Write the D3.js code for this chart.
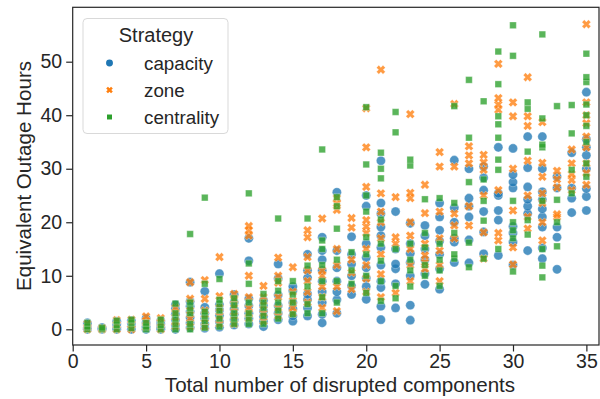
<!DOCTYPE html>
<html><head><meta charset="utf-8">
<script src="https://cdn.jsdelivr.net/npm/d3@7"></script>
<style>body{margin:0;background:#fff}svg{display:block}text{font-family:"Liberation Sans",Arial,sans-serif;fill:#262626}</style>
</head><body><svg id="c" width="600" height="399"></svg>
<script>
const strategies = ["capacity","zone","centrality"];
const colors = ["#1f77b4","#ff7f0e","#2ca02c"];
const xTicks = [0,5,10,15,20,25,30,35];
const yTicks = [0,10,20,30,40,50];
const xs = d3.range(1,36);
const capacity = [
[0,0.3,0.8,1.2],[0,0.1,0.3],[0,0.4,1.0,1.5],[0,0.5,1.2,1.6],[0,0.5,1.2,2.0],[0,0.4,1.0,1.6],
[0,0.8,1.8,2.8,3.8,4.6],[0.3,1.2,2.2,3.3,4.3,5.2,8.8],[0.2,1.0,2.0,3.0,4.1,7.1],[0.4,1.4,2.6,3.6,4.6,10.4],
[0.8,1.8,2.8,3.8,5.0,6.5],[1.0,2.0,3.0,4.4,5.7,12.8,17.0],[0.5,1.4,2.4,3.4,4.4,5.4],[1.8,3.0,4.4,6.4,9.5,12.2],
[1.5,2.5,3.8,5.0,7.2,8.0],[2.5,4.0,5.5,6.6,9.6,11.0,14.0],[1.2,2.8,5.0,7.0,9.0,11.0,13.0,14.7,17.2],
[3.0,5.5,7.0,9.0,11.5,14.7,25.6],[6.5,8.1,10.0,12.2,14.0,17.3],[5.6,8.0,9.6,11.5,13.4,16.0,23.0,25.0],
[1.8,4.3,7.8,9.0,12.0,15.3,17.5,19.1,21.6,23.6,31.5],[4.0,8.5,11.3,12.2,15.0,22.0],[1.7,4.5,10.0,12.5,14.2,16.0,19.8],
[8.4,10.4,13.0,15.0,17.5,19.4],[7.5,11.3,14.0,16.5,18.5,21.0,23.6],[12.5,16.3,17.0,20.0,22.7,31.6],
[12.4,16.7,21.0,23.0,24.5,30.0],[14.1,18.2,22.0,26.0,28.3,30.4],[13.8,20.4,22.2,25.0,25.4,34.0],
[12.0,16.3,18.0,19.2,26.4,27.5,28.9,33.8],[14.7,21.6,23.0,24.3,26.6,30.2,36.0],
[13.2,15.2,19.1,21.0,22.5,24.2,25.7,30.0,36.0],[11.2,17.2,19.1,26.4,28.5],[21.8,24.5,26.4,33.0],
[22.2,24.8,26.3,30.0,32.5,34.0,35.5,44.3]];
const zone = [
[0,0.4,1.0],[0,0.2],[0,0.8,1.7],[0,0.9,1.8],[0.4,1.5,2.4],[0,1.2,2.1],[0.5,1.5,3.0,4.0],
[0.5,2.0,3.5,5.7,8.8],[0.5,2.0,3.5,5.7,9.2],[1.0,2.5,4.0,6.2,13.5],[1.0,2.5,4.0,5.5,6.6],
[2.0,3.0,4.0,6.0,10.0,17.5,18.5,19.3],[1.5,3.0,4.5,6.0,8.1],[2.5,4.0,6.0,8.7,10.0,13.4],
[3.0,4.0,5.3,7.0,11.6],[5.0,7.0,9.0,11.0,13.5,17.2,18.5],[4.0,6.0,8.0,10.0,11.0,20.7],
[3.4,8.0,12.0,15.0,22.3,23.5,24.5],[7.5,10.6,13.0,19.0,20.8],[7.0,9.5,12.0,15.0,18.0,19.2,20.4,26.6,34.0,41.3],
[6.0,10.3,14.0,17.0,20.0,22.0,25.4,48.5],[6.8,16.0,17.2,24.7],[9.0,12.0,15.0,17.5,20.0,24.5,25.5,40.2],
[11.3,12.5,13.8,16.0,21.7,27.0],[9.0,12.0,14.7,17.0,22.0,30.4,33.1],[17.0,19.4,21.6,30.4,42.1],
[19.4,23.0,31.0,32.5,34.2],[13.2,18.1,25.0,29.8,31.2,32.6],[16.6,18.0,26.0,41.0,42.0,43.2,49.6],
[12.1,15.3,22.2,30.0,39.8,42.4],[18.8,21.0,25.0,31.5,38.0,39.8,47.1],[16.6,20.0,23.6,25.4,28.5,31.1,38.7],
[21.0,21.5,26.5,28.0,29.6],[26.0,27.9,29.0,31.0,33.6],[27.0,29.2,31.0,34.0,36.0,38.5,40.0,42.4,57.0]];
const centrality = [
[0,0.5,1.2],[0,0.3],[0,0.8,1.6],[0.2,1.2,1.8],[0,0.5,1.2],[0,0.8,1.8],[0,1.0,2.0,3.0,4.8],
[0,1.0,3.0,4.0,5.0,17.8],[0.3,1.5,2.5,3.3,8.5,24.6],[0.5,2.0,3.5,4.7,5.5,9.4],[1.0,2.0,3.0,4.5,5.8],
[1.0,2.0,3.0,5.0,8.5,12.3,25.4],[1.0,2.5,4.0,5.0,6.6],[2.0,3.5,5.0,7.2,9.0,20.7],[2.8,5.0,6.5,9.0],
[3.0,4.7,8.0,11.9,20.7],[3.0,6.0,9.0,12.0,15.0,16.6,33.6],[5.0,9.0,13.0,18.8,23.0,24.7],[8.5,11.0,14.4],
[6.8,10.0,14.0,17.2,22.0,25.0,30.8,41.5],[5.3,9.0,12.8,16.0,20.5,28.2,30.0,33.0],[5.8,8.1,15.0,36.8,40.6],
[8.0,11.0,13.0,16.0,30.6,31.7],[10.0,12.0,15.3,18.0,24.3],[8.1,11.0,13.0,16.0,24.5],[13.2,14.0,18.0,23.6,41.7],
[11.6,16.2,27.5,35.8,46.6],[13.2,20.3,24.0,28.0,42.6],[15.0,29.8,31.7,35.8,38.3,39.8,45.8,51.9],
[10.8,17.0,18.5,20.0,24.0,51.1,56.8],[17.7,20.4,33.2,41.2,42.4],[9.7,11.9,15.0,24.0,34.0,34.5,39.4,55.1],
[15.5,20.0,24.2,41.7],[25.4,29.8,36.6,41.9],[28.5,31.0,35.0,38.0,40.0,42.0,46.2,47.1,51.5]];
const seriesVals = [capacity, zone, centrality];

const svg = d3.select("#c");
const L=72.7, R=599, T=7.3, B=345;
const x = d3.scaleLinear().domain([0,35.86]).range([L,R]);
const y = d3.scaleLinear().domain([0,50]).range([329.3,61.7]);

function xPath(s){ // filled X
  const a=s, w=s*0.36, c=Math.SQRT1_2;
  const p=[[w,a],[w,w],[a,w],[a,-w],[w,-w],[w,-a],[-w,-a],[-w,-w],[-a,-w],[-a,w],[-w,w],[-w,a]]
    .map(([px,py])=>[(px-py)*c,(px+py)*c]);
  return "M"+p.map(q=>q.join(",")).join("L")+"Z";
}
function markerPath(k, scale){
  if(k===0) return d3.symbol(d3.symbolCircle, 66*scale*scale)();
  if(k===1) return xPath(4.6*scale);
  return d3.symbol(d3.symbolSquare, 44*scale*scale)();
}

const pts=[];
xs.forEach((xv,i)=>{ seriesVals.forEach((arr,k)=>{ arr[i].forEach(v=>pts.push({x:xv,y:v,k})); }); });

const g = svg.append("g");
g.selectAll("path.pt").data(pts).join("path").attr("class","pt")
  .attr("transform",d=>`translate(${x(d.x)},${y(d.y)})`)
  .attr("d",d=>markerPath(d.k,1))
  .attr("fill",d=>colors[d.k]).attr("fill-opacity",0.78)
  .attr("stroke","#fff").attr("stroke-width",0.5).attr("stroke-opacity",0.6);

svg.append("rect").attr("x",L).attr("y",T).attr("width",R-L).attr("height",B-T)
  .attr("fill","none").attr("stroke","#262626").attr("stroke-width",1.2);

const xa = svg.append("g").attr("transform",`translate(0,${B})`)
  .call(d3.axisBottom(x).tickValues(xTicks).tickSize(6.5).tickPadding(3));
const ya = svg.append("g").attr("transform",`translate(${L},0)`)
  .call(d3.axisLeft(y).tickValues(yTicks).tickSize(6.5).tickPadding(4));
[xa,ya].forEach(a=>{
  a.select(".domain").remove();
  a.selectAll(".tick line").attr("stroke","#262626").attr("stroke-width",1.2);
  a.selectAll(".tick text").attr("font-size",19.5).attr("fill","#262626")
   .style("font-family","'Liberation Sans',Arial,sans-serif");
});

svg.append("text").attr("x",340).attr("y",392).attr("text-anchor","middle")
  .attr("font-size",20.6).text("Total number of disrupted components");
svg.append("text").attr("transform",`translate(30.5,176) rotate(-90)`).attr("text-anchor","middle")
  .attr("font-size",20.6).text("Equivalent Outage Hours");

const lg = svg.append("g");
lg.append("rect").attr("x",83).attr("y",18.5).attr("width",145).attr("height",115).attr("rx",4)
  .attr("fill","#fff").attr("fill-opacity",0.8).attr("stroke","#d9d9d9").attr("stroke-width",1);
lg.append("text").attr("x",156).attr("y",42).attr("text-anchor","middle").attr("font-size",20).text("Strategy");
strategies.forEach((s,k)=>{
  const yy = 63 + k*27;
  lg.append("path").attr("transform",`translate(109.5,${yy})`).attr("d",markerPath(k,0.75))
    .attr("fill",colors[k]).attr("fill-opacity",1);
  lg.append("text").attr("x",144).attr("y",yy+6.5).attr("font-size",18.8).text(s);
});
</script></body></html>
